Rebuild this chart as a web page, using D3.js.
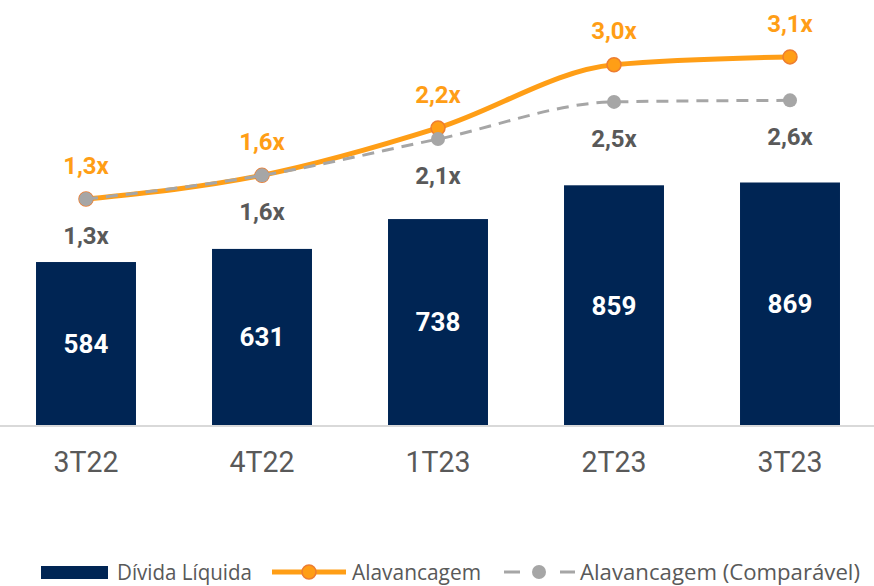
<!DOCTYPE html>
<html>
<head>
<meta charset="utf-8">
<script src="https://cdn.jsdelivr.net/npm/d3@7"></script>
<style>
  body { margin: 0; background: #fff; }
  svg { display: block; }
</style>
</head>
<body>
<script>
var width = 874;
var height = 586;

// data
var periodos = ["3T22", "4T22", "1T23", "2T23", "3T23"];
var dividaLiquida = [584, 631, 738, 859, 869];
var alavancagem = [1.3, 1.6, 2.2, 3.0, 3.1];
var alavancagemLabels = ["1,3x", "1,6x", "2,2x", "3,0x", "3,1x"];
var comparavel = [1.3, 1.6, 2.06, 2.53, 2.55];
var comparavelLabels = ["1,3x", "1,6x", "2,1x", "2,5x", "2,6x"];
var legendNames = ["Dívida Líquida", "Alavancagem", "Alavancagem (Comparável)"];

var navy = "#002554";
var orange = "#FF9E16";
var orangeDark = "#ED7D31";
var grey = "#A6A6A6";
var textGrey = "#595959";

var svg = d3.select("body").append("svg")
    .attr("width", width)
    .attr("height", height);

var x = d3.scaleBand()
    .domain(periodos)
    .range([-2, 878])
    .paddingInner(0.432)
    .paddingOuter(0.216);

var yBar = d3.scaleLinear().domain([0, 1523]).range([425, 0]);
var yLine = d3.scaleLinear().domain([-1.56, 3.82]).range([425, 0]);

// bars
svg.selectAll(".bar")
    .data(dividaLiquida)
  .enter().append("rect")
    .attr("class", "bar")
    .attr("x", function (d, i) { return x(periodos[i]); })
    .attr("width", x.bandwidth())
    .attr("y", function (d) { return yBar(d); })
    .attr("height", function (d) { return yBar(0) - yBar(d); })
    .style("fill", navy);

svg.selectAll(".bar-label")
    .data(dividaLiquida)
  .enter().append("text")
    .attr("class", "bar-label")
    .attr("x", function (d, i) { return x(periodos[i]) + x.bandwidth() / 2; })
    .attr("y", function (d) { return (yBar(d) + yBar(0)) / 2; })
    .attr("dy", "0.36em")
    .attr("text-anchor", "middle")
    .style("font-family", "Roboto, sans-serif")
    .style("font-weight", "bold")
    .style("font-size", "26px")
    .style("fill", "#fff")
    .text(function (d) { return d; });

// baseline + category axis
svg.append("line")
    .attr("x1", 0).attr("x2", width)
    .attr("y1", yBar(0) + 1).attr("y2", yBar(0) + 1)
    .style("stroke", "#D9D9D9")
    .style("stroke-width", 2);

var xAxis = svg.append("g")
    .attr("transform", "translate(0," + yBar(0) + ")")
    .call(d3.axisBottom(x).tickSize(0).tickPadding(26));
xAxis.select(".domain").remove();
xAxis.selectAll("text")
    .style("font-family", "Roboto, sans-serif")
    .style("font-size", "30px")
    .style("fill", textGrey)
    .attr("textLength", 65)
    .attr("lengthAdjust", "spacingAndGlyphs");

var cx = function (d, i) { return x(periodos[i]) + x.bandwidth() / 2; };

var line = d3.line()
    .x(function (d, i) { return cx(d, i); })
    .y(function (d) { return yLine(d); })
    .curve(d3.curveMonotoneX);

// Alavancagem (orange)
svg.append("path")
    .datum(alavancagem)
    .attr("d", line)
    .style("fill", "none")
    .style("stroke", orange)
    .style("stroke-width", 5);

svg.selectAll(".dot-a")
    .data(alavancagem)
  .enter().append("circle")
    .attr("class", "dot-a")
    .attr("cx", cx)
    .attr("cy", function (d) { return yLine(d); })
    .attr("r", 7)
    .style("fill", orange)
    .style("stroke", orangeDark)
    .style("stroke-width", 1.5);

// Alavancagem comparável (grey, dashed)
svg.append("path")
    .datum(comparavel)
    .attr("d", line)
    .style("fill", "none")
    .style("stroke", grey)
    .style("stroke-width", 3)
    .style("stroke-dasharray", "12,8");

svg.selectAll(".dot-c")
    .data(comparavel)
  .enter().append("circle")
    .attr("class", "dot-c")
    .attr("cx", cx)
    .attr("cy", function (d) { return yLine(d); })
    .attr("r", 7)
    .style("fill", grey);

svg.selectAll(".lab-a")
    .data(alavancagem)
  .enter().append("text")
    .attr("class", "lab-a")
    .attr("x", cx)
    .attr("y", function (d) { return yLine(d) - 34; })
    .attr("dy", "0.36em")
    .attr("text-anchor", "middle")
    .style("font-family", "Roboto, sans-serif")
    .style("font-weight", "bold")
    .style("font-size", "24px")
    .style("fill", orange)
    .text(function (d, i) { return alavancagemLabels[i]; });

svg.selectAll(".lab-c")
    .data(comparavel)
  .enter().append("text")
    .attr("class", "lab-c")
    .attr("x", cx)
    .attr("y", function (d) { return yLine(d) + 36; })
    .attr("dy", "0.36em")
    .attr("text-anchor", "middle")
    .style("font-family", "Roboto, sans-serif")
    .style("font-weight", "bold")
    .style("font-size", "24px")
    .style("fill", textGrey)
    .text(function (d, i) { return comparavelLabels[i]; });

// legend
var legend = svg.append("g").attr("class", "legend");
var ly = 572;

legend.append("rect")
    .attr("x", 41).attr("y", ly - 6)
    .attr("width", 67).attr("height", 13)
    .style("fill", navy);

legend.append("line")
    .attr("x1", 272).attr("x2", 346)
    .attr("y1", ly).attr("y2", ly)
    .style("stroke", orange).style("stroke-width", 5);
legend.append("circle")
    .attr("cx", 309).attr("cy", ly).attr("r", 7)
    .style("fill", orange).style("stroke", orangeDark).style("stroke-width", 1.5);

legend.append("line")
    .attr("x1", 504).attr("x2", 575)
    .attr("y1", ly).attr("y2", ly)
    .style("stroke", grey).style("stroke-width", 3)
    .style("stroke-dasharray", "16,40");
legend.append("circle")
    .attr("cx", 539).attr("cy", ly).attr("r", 7)
    .style("fill", grey);

var legendText = [
  { x: 117, w: 135 },
  { x: 352, w: 129 },
  { x: 580, w: 280 }
];

legend.selectAll(".legend-text")
    .data(legendNames)
  .enter().append("text")
    .attr("class", "legend-text")
    .attr("x", function (d, i) { return legendText[i].x; })
    .attr("y", ly)
    .attr("dy", "0.36em")
    .attr("textLength", function (d, i) { return legendText[i].w; })
    .attr("lengthAdjust", "spacingAndGlyphs")
    .style("font-family", "'Open Sans', sans-serif")
    .style("font-size", "22px")
    .style("fill", textGrey)
    .text(function (d) { return d; });
</script>
</body>
</html>
